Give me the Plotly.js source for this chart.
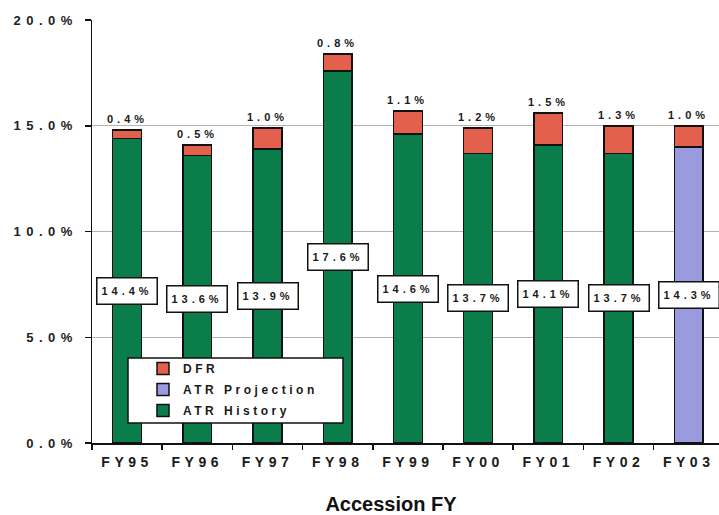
<!DOCTYPE html>
<html>
<head>
<meta charset="utf-8">
<script src="https://cdn.plot.ly/plotly-3.0.1.min.js"></script>
<style>
  html, body { margin: 0; padding: 0; background: #fff; }
  #chart { width: 719px; height: 515px; }
  .xtick text { letter-spacing: 4.5px; }
  .ytick text { letter-spacing: 5.5px; }
  .legendtext { letter-spacing: 3.5px; }
  .annotation-text { letter-spacing: 4px; }
</style>
</head>
<body>
<div id="chart"></div>
<script>
// ---- data ----
const categories = ['FY95','FY96','FY97','FY98','FY99','FY00','FY01','FY02','FY03'];
const atrHistory = [14.4, 13.6, 13.9, 17.6, 14.6, 13.7, 14.1, 13.7, null];
const atrProjection = [null, null, null, null, null, null, null, null, 14.0];
const dfr = [0.4, 0.5, 1.0, 0.8, 1.1, 1.2, 1.5, 1.3, 1.0];
const atrLabels = ['14.4%','13.6%','13.9%','17.6%','14.6%','13.7%','14.1%','13.7%','14.3%'];

// ---- layout helpers ----
const W = 719, H = 515;
const mL = 92, mT = 20, mB = 72, mR = 0;
const plotW = W - mL - mR, plotH = H - mT - mB;
const px = v => (v - mL) / plotW;          // pixel x -> paper x
const py = v => (H - mB - v) / plotH;      // pixel y -> paper y

const FONT = '"Liberation Sans", Arial, sans-serif';
const cGreen = '#0b7d4b', cRed = '#e2604c', cBlue = '#9a9ade';
const outline = { color: '#111', width: 1.5 };

const traces = [
  { type: 'bar', name: 'ATR History', x: categories, y: atrHistory, legendrank: 3,
    marker: { color: cGreen, line: outline }, legendgroup: 'h', hoverinfo: 'skip' },
  { type: 'bar', name: 'ATR Projection', x: categories, y: atrProjection, legendrank: 2,
    marker: { color: cBlue, line: outline }, legendgroup: 'p', hoverinfo: 'skip' },
  { type: 'bar', name: 'DFR', x: categories, y: dfr, legendrank: 1,
    marker: { color: cRed, line: outline }, legendgroup: 'd', hoverinfo: 'skip' }
];

const annotations = [];
categories.forEach((c, i) => {
  const base = atrHistory[i] != null ? atrHistory[i] : atrProjection[i];
  annotations.push({
    x: c, y: base + dfr[i], xref: 'x', yref: 'y',
    text: dfr[i].toFixed(1) + '%', showarrow: false,
    yanchor: 'bottom', yshift: 3,
    font: { family: FONT, size: 11, weight: 'bold', color: '#1a1a1a' }
  });
  annotations.push({
    x: c, y: base / 2, xref: 'x', yref: 'y',
    text: atrLabels[i], showarrow: false,
    bgcolor: '#ffffff', bordercolor: '#111', borderwidth: 1.5, borderpad: 1,
    width: 57, height: 23,
    font: { family: FONT, size: 11, weight: 'bold', color: '#1a1a1a' }
  });
});

const layout = {
  width: W, height: H,
  margin: { l: mL, r: mR, t: mT, b: mB, pad: 0 },
  paper_bgcolor: '#fff', plot_bgcolor: '#fff',
  barmode: 'stack', bargap: 0.59,
  showlegend: true,
  legend: {
    x: px(143), y: py(354), xanchor: 'left', yanchor: 'top',
    bgcolor: 'rgba(0,0,0,0)', borderwidth: 0,
    traceorder: 'grouped', tracegroupgap: 2,
    font: { family: FONT, size: 12, weight: 'bold', color: '#1a1a1a' }
  },
  title: {
    text: 'Accession FY', xref: 'container', yref: 'container',
    x: 391 / W, xanchor: 'center', y: 4 / H, yanchor: 'bottom',
    font: { family: FONT, size: 20, weight: 'bold', color: '#111' }
  },
  xaxis: {
    type: 'category', range: [-0.5, -0.5 + plotW / 70.2],
    showline: true, linecolor: '#111', linewidth: 1.5,
    ticks: 'outside', tickson: 'boundaries', ticklen: 5, tickcolor: '#111', tickwidth: 1.5,
    showgrid: false, zeroline: false, ticklabelstandoff: 6,
    tickfont: { family: FONT, size: 14, weight: 'bold', color: '#1a1a1a' }
  },
  yaxis: {
    range: [0, 20], dtick: 5, tick0: 0, tickformat: '.1f', ticksuffix: '%',
    showline: true, linecolor: '#111', linewidth: 1.5,
    ticks: 'outside', ticklen: 6, tickcolor: '#111', tickwidth: 1.5,
    showgrid: true, gridcolor: '#b4b4b4', gridwidth: 1, zeroline: false,
    ticklabelstandoff: 4,
    tickfont: { family: FONT, size: 13, weight: 'bold', color: '#222' }
  },
  shapes: [{
    type: 'rect', xref: 'paper', yref: 'paper', layer: 'above',
    x0: px(128), x1: px(343), y0: py(423), y1: py(358),
    fillcolor: '#fff', line: { color: '#111', width: 1.5 }
  }],
  annotations: annotations
};

Plotly.newPlot('chart', traces, layout, { staticPlot: true, displayModeBar: false });
</script>
</body>
</html>
